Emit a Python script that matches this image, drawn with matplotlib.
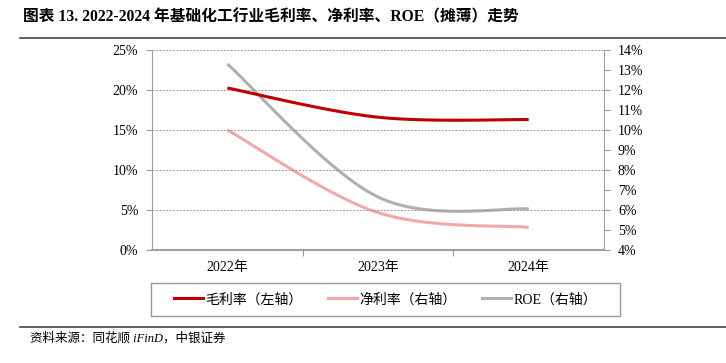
import numpy as np
import matplotlib
matplotlib.use("Agg")
import matplotlib.pyplot as plt
from matplotlib.lines import Line2D
from matplotlib.patches import Rectangle

plt.rcParams['font.family'] = ['Liberation Serif', 'Noto Sans CJK SC', 'DejaVu Sans']

# 数据
years = ['2022年', '2023年', '2024年']
gross_margin = [20.25, 16.6, 16.3]   # 左轴
net_margin = [10.0, 5.87, 5.13]      # 右轴
roe = [13.3, 6.65, 6.05]             # 右轴

c_red = '#C00000'
c_pink = '#F0A8A8'
c_gray = '#B0B0B0'


def smooth(y, n=60):
    # Excel风格平滑曲线 (Catmull-Rom -> Bezier)
    x = np.arange(len(y), dtype=float)
    pts = np.column_stack([x, np.asarray(y, dtype=float)])
    ext = np.vstack([pts[0], pts, pts[-1]])
    out = []
    t = np.linspace(0, 1, n)[:, None]
    for i in range(len(pts) - 1):
        p0, p1, p2, p3 = ext[i], ext[i + 1], ext[i + 2], ext[i + 3]
        c1 = p1 + (p2 - p0) / 6
        c2 = p2 - (p3 - p1) / 6
        seg = ((1 - t) ** 3) * p1 + 3 * ((1 - t) ** 2) * t * c1 + 3 * (1 - t) * t ** 2 * c2 + t ** 3 * p2
        out.append(seg if i == 0 else seg[1:])
    seg = np.vstack(out)
    return seg[:, 0], seg[:, 1]


fig = plt.figure(figsize=(7.26, 3.63), dpi=100)
ax = fig.add_axes([0.2094, 0.3113, 0.6226, 0.551])
ax2 = ax.twinx()

xs, ys = smooth(gross_margin)
ax.plot(xs, ys, color=c_red, lw=2.2, solid_capstyle='butt', zorder=5)
xs, ys = smooth(net_margin)
ax2.plot(xs, ys, color=c_pink, lw=2.2, solid_capstyle='butt')
xs, ys = smooth(roe)
ax2.plot(xs, ys, color=c_gray, lw=2.2, solid_capstyle='butt')
ax.set_zorder(ax2.get_zorder() + 1)
ax.patch.set_visible(False)

ax.set_xlim(-0.5, 2.5)
ax.set_ylim(0, 25)
ax2.set_ylim(4, 14)

ax.set_yticks(np.arange(0, 26, 5))
ax.set_yticklabels(['%d%%' % v for v in range(0, 26, 5)])
ax2.set_yticks(np.arange(4, 15, 1))
ax2.set_yticklabels(['%d%%' % v for v in range(4, 15)])

ax.set_xticks([0.5, 1.5])
ax.set_xticklabels([])
ax.set_xticks([0, 1, 2], minor=True)
ax.set_xticklabels(years, minor=True)
ax.tick_params(axis='x', which='minor', length=0, pad=8)
ax.tick_params(axis='x', which='major', length=4, color='#999999')

for a in (ax, ax2):
    a.tick_params(axis='y', length=4, color='#999999', labelsize=10, pad=6)
    a.tick_params(axis='x', labelsize=10)
    a.spines['top'].set_visible(False)
    for s in ('left', 'right', 'bottom'):
        a.spines[s].set_color('#A0A0A0')
ax.spines['bottom'].set_linewidth(1.5)
ax.spines['right'].set_visible(False)
ax2.spines['left'].set_visible(False)
ax2.spines['bottom'].set_visible(False)

for v in range(5, 26, 5):
    ax.axhline(v, color='#999999', lw=0.7, ls=(0, (2, 1.5)), zorder=0)

# 图例
fig.add_artist(Rectangle((0.208, 0.1295), 0.646, 0.091, transform=fig.transFigure,
                         fill=False, edgecolor='#999999', lw=1.0))
handles = [Line2D([], [], color=c_red, lw=2.2),
           Line2D([], [], color=c_pink, lw=2.2),
           Line2D([], [], color=c_gray, lw=2.2)]
labels = ['毛利率（左轴）', '净利率（右轴）', 'ROE（右轴）']
fig.legend(handles, labels, loc='center', ncol=3,
           bbox_to_anchor=(0.531, 0.175),
           fontsize=10, frameon=False, handlelength=2.1,
           handletextpad=0.2, columnspacing=1.8, borderaxespad=0)

fig.text(0.031, 0.953, '图表 13. 2022-2024 年基础化工行业毛利率、净利率、ROE（摊薄）走势',
         fontsize=11.3, fontweight='bold', va='center', ha='left')
fig.add_artist(Line2D([0.028, 1.0], [0.896, 0.896], color='#444444', lw=1.2))
fig.add_artist(Line2D([0.028, 1.0], [0.099, 0.099], color='#444444', lw=1.2))
fig.text(0.041, 0.068, '资料来源：同花顺 iFinD，中银证券', fontsize=9,
         style='italic', va='center', ha='left')

fig.savefig('out.png', dpi=100)
